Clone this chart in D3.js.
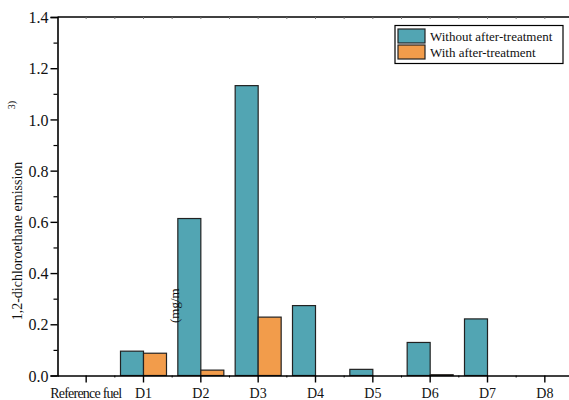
<!DOCTYPE html>
<html>
<head>
<meta charset="utf-8">
<script src="https://cdn.jsdelivr.net/npm/d3@7"></script>
<style>
body { margin: 0; background: #fff; }
text { font-family: "Liberation Serif", "DejaVu Serif", serif; fill: #111; }
</style>
</head>
<body>
<svg id="chart" width="569" height="400"></svg>
<script>
// data
var categories = ["Reference fuel", "D1", "D2", "D3", "D4", "D5", "D6", "D7", "D8"];
var withoutAfter = [0, 0.095, 0.613, 1.132, 0.273, 0.024, 0.129, 0.221, 0];
var withAfter = [0, 0.087, 0.021, 0.228, 0, 0, 0.003, 0, 0];
var seriesNames = ["Without after-treatment", "With after-treatment"];
var colors = ["#52a5b3", "#f29c4b"];
var yTicks = [0, 0.2, 0.4, 0.6, 0.8, 1.0, 1.2, 1.4];

var svg = d3.select("#chart");
var mLeft = 57.5, mTop = 17, mBottom = 375.5, mRight = 573.5;

var x = d3.scaleBand().domain(categories).range([mLeft, mRight]);
var y = d3.scaleLinear().domain([0, 1.4]).range([mBottom, mTop]);
var bw = 23;

//bars
var series = [withoutAfter, withAfter];
series.forEach(function(vals, s) {
	svg.append("g").selectAll("rect")
		.data(vals)
		.enter().append("rect")
		.attr("x", function(d, i) { return x(categories[i]) + x.bandwidth() / 2 - (s === 0 ? bw : 0); })
		.attr("y", function(d) { return y(d); })
		.attr("width", bw)
		.attr("height", function(d) { return mBottom - y(d); })
		.style("fill", colors[s])
		.style("stroke", "#222")
		.style("stroke-width", function(d) { return d > 0 ? 1.2 : 0; });
});

//y axis major + minor ticks
var yAxis = svg.append("g").attr("transform", "translate(" + mLeft + ",0)")
	.call(d3.axisLeft(y).tickValues(yTicks).tickFormat(d3.format(".1f")).tickSize(7).tickPadding(2));
yAxis.selectAll("text").style("font-size", "16px").attr("dy", "0.35em");
yAxis.select(".domain").style("stroke-width", 1.6);
yAxis.selectAll(".tick line").style("stroke-width", 1.4);
svg.append("g").attr("transform", "translate(" + mLeft + ",0)")
	.call(d3.axisLeft(y).tickValues(d3.range(0.1, 1.4, 0.2)).tickFormat("").tickSize(4))
	.call(function(g) { g.select(".domain").remove(); })
	.selectAll("line").style("stroke-width", 1.2);

//x axis
var xAxis = svg.append("g").attr("transform", "translate(0," + mBottom + ")")
	.call(d3.axisBottom(x).tickSize(7).tickSizeOuter(0).tickPadding(6));
xAxis.selectAll("text").style("font-size", "14px").attr("textLength", function(d) { return d === "Reference fuel" ? 72 : null; });
xAxis.select(".domain").style("stroke-width", 1.6);
xAxis.selectAll(".tick line").style("stroke-width", 1.4);
// small ticks between categories
svg.append("g").selectAll("line")
	.data(categories.slice(1))
	.enter().append("line")
	.attr("x1", function(d) { return x(d); })
	.attr("x2", function(d) { return x(d); })
	.attr("y1", mBottom).attr("y2", mBottom + 2)
	.style("stroke", "#000").style("stroke-width", 1);

//top border with tiny ticks
svg.append("line").attr("x1", mLeft).attr("x2", 569).attr("y1", mTop).attr("y2", mTop)
	.style("stroke", "#000").style("stroke-width", 1.6);
svg.append("g").selectAll("line")
	.data(categories)
	.enter().append("line")
	.attr("x1", function(d) { return x(d) + x.bandwidth() / 2; })
	.attr("x2", function(d) { return x(d) + x.bandwidth() / 2; })
	.attr("y1", mTop).attr("y2", mTop + 2)
	.style("stroke", "#777").style("stroke-width", 1);
svg.append("g").selectAll("line")
	.data(categories.slice(1))
	.enter().append("line")
	.attr("x1", function(d) { return x(d); })
	.attr("x2", function(d) { return x(d); })
	.attr("y1", mTop).attr("y2", mTop + 2)
	.style("stroke", "#777").style("stroke-width", 1);

//y label (broken pieces as in the original)
svg.append("text")
	.attr("transform", "translate(22,241) rotate(-90)")
	.attr("text-anchor", "middle")
	.style("font-size", "14px")
	.text("1,2-dichloroethane emission");
svg.append("text")
	.attr("transform", "translate(15,105) rotate(-90)")
	.attr("text-anchor", "middle")
	.style("font-size", "10px")
	.text("3)");
svg.append("text")
	.attr("transform", "translate(179,323) rotate(-90)")
	.attr("text-anchor", "start")
	.style("font-size", "13px")
	.text("(mg/m");

//legend
var lg = svg.append("g");
lg.append("rect").attr("x", 395).attr("y", 25.5).attr("width", 168).attr("height", 38)
	.style("fill", "#fff").style("stroke", "#000").style("stroke-width", 1.2);
seriesNames.forEach(function(n, i) {
	lg.append("rect").attr("x", 398).attr("y", 29 + i * 16).attr("width", 27).attr("height", 14)
		.style("fill", colors[i]).style("stroke", "#222").style("stroke-width", 1.2);
	lg.append("text").attr("x", 430).attr("y", 41 + i * 16)
		.style("font-size", "13px").text(n);
});
</script>
</body>
</html>
